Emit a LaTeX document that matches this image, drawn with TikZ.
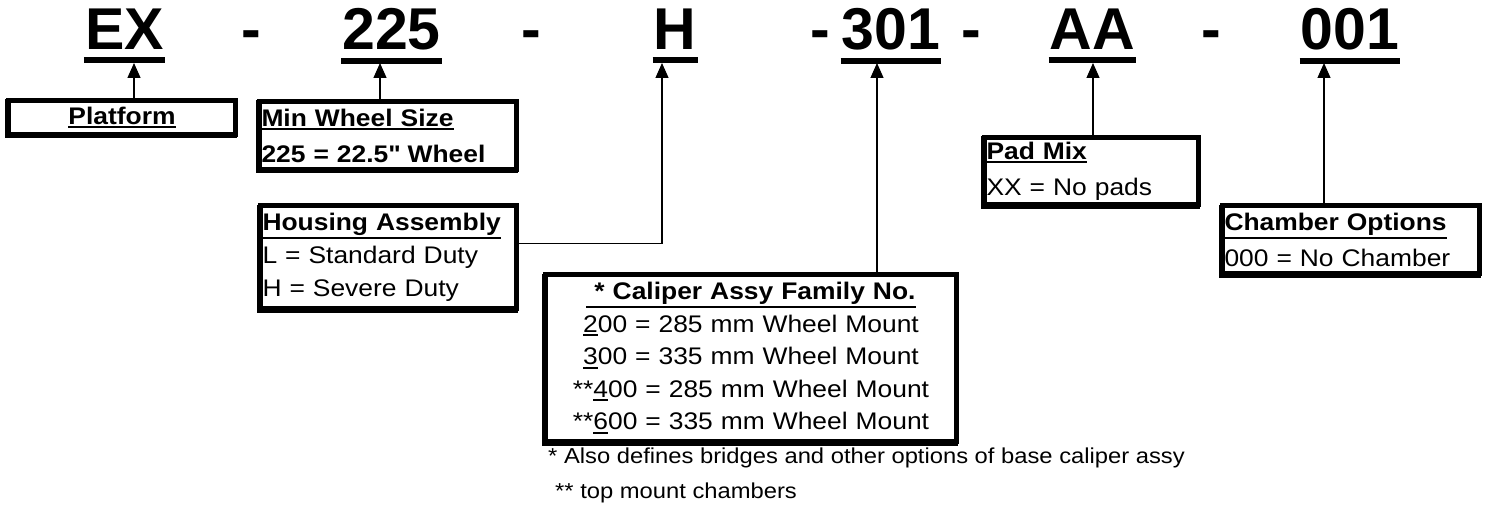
\documentclass[tikz,border=0pt]{standalone}
\usepackage{fontspec}
\setmainfont{Liberation Sans}
\newfontfamily\widefont[FakeStretch=1.1]{Liberation Sans}
\usetikzlibrary{arrows.meta, shadows}

\newcommand{\ulbox}[1]{\leavevmode\setbox0\hbox{#1}\rlap{\vrule width\wd0 height -\dimexpr\dp0+1.5pt\relax depth \dimexpr\dp0+3.5pt\relax}\box0\relax}

\begin{document}
\begin{tikzpicture}[
  x=1pt, y=-1pt,
  code/.style={anchor=base, inner sep=0pt, font=\fontsize{59}{60}\selectfont\bfseries},
  bar/.style={line width=6pt},
  box/.style={draw, fill=white, line width=5pt, anchor=north west, inner xsep=2pt, inner ysep=2pt,
              copy shadow={shadow xshift=-1.5pt, shadow yshift=-1.5pt}},
  two/.style={font=\widefont\fontsize{24}{36}\selectfont},
  three/.style={font=\widefont\fontsize{24}{33}\selectfont},
  note/.style={anchor=base west, inner sep=0pt, font=\widefont\fontsize{21.6}{26}\selectfont},
  arr/.style={-{Triangle[length=15pt,width=13pt]}, line width=1.3pt}
]
\useasboundingbox (0,0) rectangle (1489,508);

\node[code] (ex) at (124.5,50) {EX};
\node[code] (d1) at (251,50) {-};
\node[code] (whc) at (391.5,50) {225};
\node[code] (d2) at (531.5,50) {-};
\node[code] (hc) at (675,50) {H};
\node[code] (d3) at (820.5,50) {-};
\node[code] (calc) at (891,50) {301};
\node[code] (d4) at (971.5,50) {-};
\node[code] (padc) at (1092.5,50) {AA};
\node[code] (d5) at (1211.5,50) {-};
\node[code] (chmc) at (1350,50) {001};

\foreach \c in {ex, whc, hc, calc, padc, chmc}
  \draw[bar] ([shift={(-1pt,-10pt)}]\c.south west) -- ([shift={(1pt,-10pt)}]\c.south east);

\node[box, minimum width=227pt, minimum height=34pt, align=center, font=\widefont\fontsize{24}{26}\selectfont\bfseries]
  (plat) at (6,98) {\ulbox{Platform}};
\node[box, two, text width=253pt, minimum height=68pt, align=left]
  (whl) at (257,99) {\bfseries\ulbox{Min Wheel Size}\\ 225 = 22.5\textquotedbl{} Wheel};
\node[box, three, text width=252pt, minimum height=103pt, align=left]
  (hsg) at (258,203) {\textbf{\ulbox{Housing Assembly}}\\ L = Standard Duty\\ H = Severe Duty};
\node[box, font=\widefont\fontsize{24}{32.5}\selectfont, text width=407pt, minimum height=167pt, align=center]
  (cal) at (543,272) {\textbf{\ulbox{\ * Caliper Assy Family No.}}\\
    \ulbox{2}00 = 285 mm Wheel Mount\\
    \ulbox{3}00 = 335 mm Wheel Mount\\
    \relax**\ulbox{4}00 = 285 mm Wheel Mount\\
    \relax**\ulbox{6}00 = 335 mm Wheel Mount};
\node[box, two, text width=210pt, minimum height=67pt, align=left]
  (pad) at (982,135) {\textbf{\ulbox{Pad Mix}}\\ XX = No pads};
\node[box, two, text width=253pt, minimum height=68pt, align=left]
  (chm) at (1220,203) {\textbf{\ulbox{Chamber Options}}\\ 000 = No Chamber};

\node[note] (fn1) at (548,463) {* Also defines bridges and other options of base caliper assy};
\node[note] (fn2) at (555,498) {** top mount chambers};

\coordinate (exa) at (134,63);
\coordinate (wha) at (380,63);
\coordinate (ha) at (662,63);
\coordinate (cala) at (877,63);
\coordinate (pada) at (1093,63);
\coordinate (chma) at (1324,63);

\draw[arr] (plat.north -| exa) -- (exa);
\draw[arr] (whl.north -| wha) -- (wha);
\draw[arr] ([yshift=13.5pt]hsg.east) -| (ha);
\draw[arr] (cal.north -| cala) -- (cala);
\draw[arr] (pad.north -| pada) -- (pada);
\draw[arr] (chm.north -| chma) -- (chma);
\end{tikzpicture}
\end{document}
